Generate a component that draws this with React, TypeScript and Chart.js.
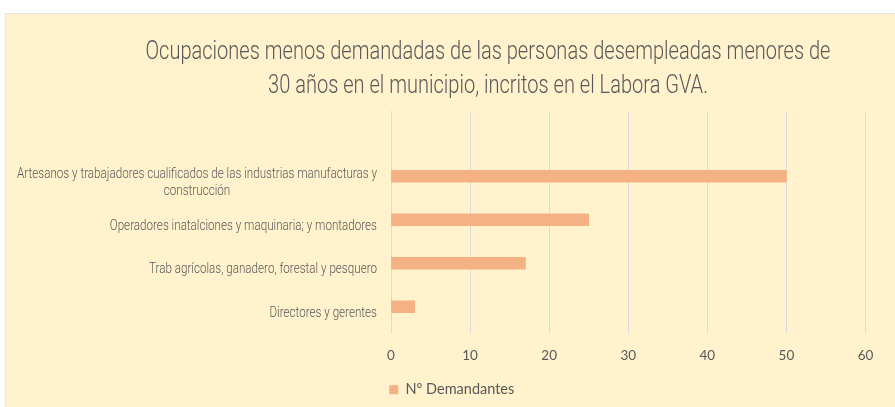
import { useEffect, useRef } from 'react';
import { Chart, registerables } from 'chart.js';

Chart.register(...registerables);

const chartTitle = [
  'Ocupaciones menos demandadas de las personas desempleadas menores de',
  '30 años en el municipio, incritos en el Labora GVA.',
];

// top-to-bottom order; first slot is an empty spacer row as in the original plot area
const categories: (string | string[])[] = [
  '',
  ['Artesanos y trabajadores cualificados de las industrias manufacturas y', 'construcción'],
  'Operadores inatalciones y maquinaria; y montadores',
  'Trab agrícolas, ganadero, forestal y pesquero',
  'Directores y gerentes',
];
const demandantes: (number | null)[] = [null, 50, 25, 17, 3];
const seriesLabel = 'Nº Demandantes';
const xTicks = { min: 0, max: 60, step: 10 };

const NARROW = 'Roboto, "DejaVu Sans", sans-serif';
const TEXT = '#595959';
const LABEL_BLOCK_WIDTH = 360; // widest category label is condensed to this width
const TITLE_WIDTH = 685; // widest title line is condensed to this width

const yLabelPlugin = {
  id: 'yLabelPlugin',
  afterDraw(chart: any) {
    const { ctx, chartArea } = chart;
    const yScale = chart.scales.y;
    ctx.save();
    ctx.font = `300 15px ${NARROW}`;
    ctx.fillStyle = TEXT;
    ctx.textBaseline = 'middle';
    ctx.textAlign = 'center';
    const allLines: string[] = [];
    (chart.data.labels as any[]).forEach((lab) => {
      (Array.isArray(lab) ? lab : [lab]).forEach((l: string) => allLines.push(l));
    });
    const maxW = Math.max(...allLines.map((l) => ctx.measureText(l).width));
    const sx = LABEL_BLOCK_WIDTH / maxW;
    const right = chartArea.left - 14;
    const lh = 17;
    (chart.data.labels as any[]).forEach((lab, i) => {
      const lines: string[] = Array.isArray(lab) ? lab : [lab];
      if (!lines[0]) return;
      const cy = yScale.getPixelForValue(i) + 6;
      const widest = Math.max(...lines.map((l) => ctx.measureText(l).width)) * sx;
      const cx = right - widest / 2;
      lines.forEach((l, k) => {
        ctx.save();
        ctx.translate(cx, cy + (k - (lines.length - 1) / 2) * lh);
        ctx.scale(sx, 1);
        ctx.fillText(l, 0, 0);
        ctx.restore();
      });
    });
    ctx.restore();
  },
};

export default function App() {
  const canvasRef = useRef<HTMLCanvasElement | null>(null);
  const titleRef = useRef<HTMLDivElement | null>(null);

  useEffect(() => {
    const t = titleRef.current;
    if (t) {
      const spans = Array.from(t.querySelectorAll('span')) as HTMLSpanElement[];
      const w = Math.max(...spans.map((s) => s.getBoundingClientRect().width));
      t.style.transform = `scaleX(${TITLE_WIDTH / w})`;
    }
    if (!canvasRef.current) return;
    const chart = new Chart(canvasRef.current, {
      type: 'bar',
      data: {
        labels: categories,
        datasets: [
          {
            label: seriesLabel,
            data: demandantes,
            backgroundColor: '#F4B183',
            borderWidth: 0,
            barThickness: 12,
          },
        ],
      },
      options: {
        indexAxis: 'y',
        animation: false,
        responsive: true,
        maintainAspectRatio: false,
        layout: { padding: { top: 98, right: 29.5, left: 33, bottom: 0 } },
        plugins: {
          title: { display: false },
          tooltip: { enabled: false },
          legend: {
            position: 'bottom',
            labels: {
              boxWidth: 9,
              boxHeight: 9,
              color: TEXT,
              padding: 10,
              font: { family: 'Lato, "Open Sans", sans-serif', size: 14.5 },
            },
          },
        },
        scales: {
          x: {
            min: xTicks.min,
            max: xTicks.max,
            ticks: {
              stepSize: xTicks.step,
              color: TEXT,
              padding: 14,
              font: { family: 'Lato, "Open Sans", sans-serif', size: 13.5 },
            },
            grid: { color: '#D9D9DE', tickLength: 5 },
            border: { display: false },
            afterFit: (s: any) => {
              s.height = 44;
            },
          },
          y: {
            ticks: { display: false },
            grid: { display: false },
            border: { display: false },
            afterFit: (s: any) => {
              s.width = 353;
            },
          },
        },
      },
      plugins: [yLabelPlugin],
    } as any);
    return () => chart.destroy();
  }, []);

  return (
    <div
      style={{
        position: 'absolute',
        left: 0,
        top: 0,
        width: 895,
        height: 407,
        overflow: 'hidden',
        background: '#FFFFFF',
      }}
    >
      <div
        style={{
          position: 'absolute',
          left: 5,
          top: 13,
          width: 900,
          height: 410,
          background: '#FFF2CC',
          borderLeft: '1px solid #E6E6E6',
          borderTop: '1px solid #E6E6E6',
          boxSizing: 'border-box',
        }}
      />
      <div style={{ position: 'absolute', left: 5, top: 13, width: 890, height: 394 }}>
        <canvas ref={canvasRef} />
      </div>
      <div
        ref={titleRef}
        style={{
          position: 'absolute',
          left: 0,
          top: 34,
          width: 976,
          textAlign: 'center',
          fontFamily: NARROW,
          fontWeight: 300,
          fontSize: 26,
          lineHeight: '33.5px',
          color: TEXT,
          whiteSpace: 'nowrap',
          transformOrigin: '488px 0',
        }}
      >
        <span>{chartTitle[0]}</span>
        <br />
        <span>{chartTitle[1]}</span>
      </div>
    </div>
  );
}
